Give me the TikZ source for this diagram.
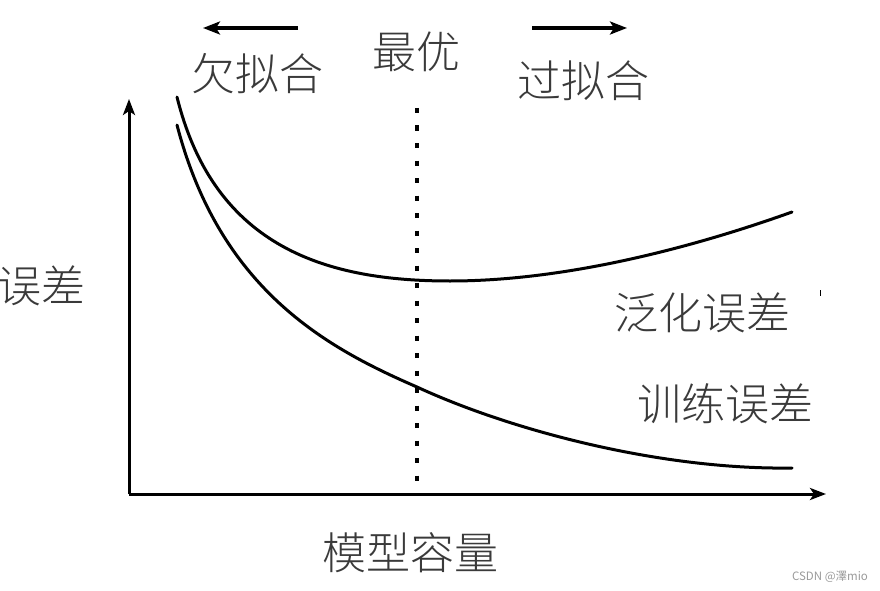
\documentclass[tikz,border=0pt]{standalone}
\usepackage{fontspec}
\newfontfamily\cjk{Noto Sans CJK SC}[UprightFont={* Light}]
\newfontfamily\cjkwm{Noto Sans CJK SC}
\usetikzlibrary{arrows.meta}
\definecolor{txt}{HTML}{3A3A3A}
\definecolor{wm}{HTML}{9A9A9A}
\tikzset{
  lbl/.style={font=\cjk\fontsize{44}{44}\selectfont, text=txt, inner sep=0pt},
  axis/.style={line width=3pt, -{Stealth[length=16pt,width=12pt,inset=4pt]}},
  dirarrow/.style={line width=3.2pt, -{Stealth[length=17pt,width=13pt,inset=4pt]}},
  curve/.style={line width=3pt, line cap=round},
  optline/.style={line width=3.2pt, dash pattern=on 5pt off 12.5pt},
}
\begin{document}
\begin{tikzpicture}[x=1pt,y=-1pt]
\useasboundingbox (0,0) rectangle (880,591);
% axes
\coordinate (O) at (129,494);
\coordinate (ytip) at (129,99);
\coordinate (xtip) at (826,494);
\draw[axis] (O) -- (ytip);
\draw[axis] (O) -- (xtip);
% optimum dotted line
\coordinate (optT) at (417,108);
\coordinate (optB) at (417,494);
\draw[optline] (optT) -- (optB);
% generalization error
\coordinate (g0) at (177,97);
\coordinate (g1) at (450,281);
\coordinate (g2) at (792,212);
\draw[curve] (g0) .. controls (215,250) and (330,281) .. (g1)
                  .. controls (570,281) and (700,245) .. (g2);
% training error
\coordinate (t0) at (177,125);
\coordinate (t1) at (417,387);
\coordinate (t2) at (792,468);
\draw[curve] (t0) .. controls (220,290) and (327,348) .. (t1)
                  .. controls (510,430) and (660,470) .. (t2);
% direction arrows
\coordinate (la1) at (298,28);
\coordinate (la2) at (203,28);
\coordinate (ra1) at (532,28);
\coordinate (ra2) at (627,28);
\draw[dirarrow] (la1) -- (la2);
\draw[dirarrow] (ra1) -- (ra2);
% labels
\node[lbl] (under) at (257,74) {欠拟合};
\node[lbl] (best) at (416,52) {最优};
\node[lbl] (over) at (583,81) {过拟合};
\node[lbl] (err) at (42,286) {误差};
\node[lbl] (gen) at (702,313) {泛化误差};
\node[lbl] (train) at (725,404) {训练误差};
\node[lbl] (cap) at (410,553) {模型容量};
% stray mark
\coordinate (m1) at (820.5,290);
\coordinate (m2) at (820.5,296);
\draw[line width=1.2pt] (m1) -- (m2);
% watermark
\node[font=\cjkwm\fontsize{11.5}{11.5}\selectfont, text=wm, inner sep=0pt] (wmk) at (830,577) {CSDN @澤mio};
\end{tikzpicture}
\end{document}
